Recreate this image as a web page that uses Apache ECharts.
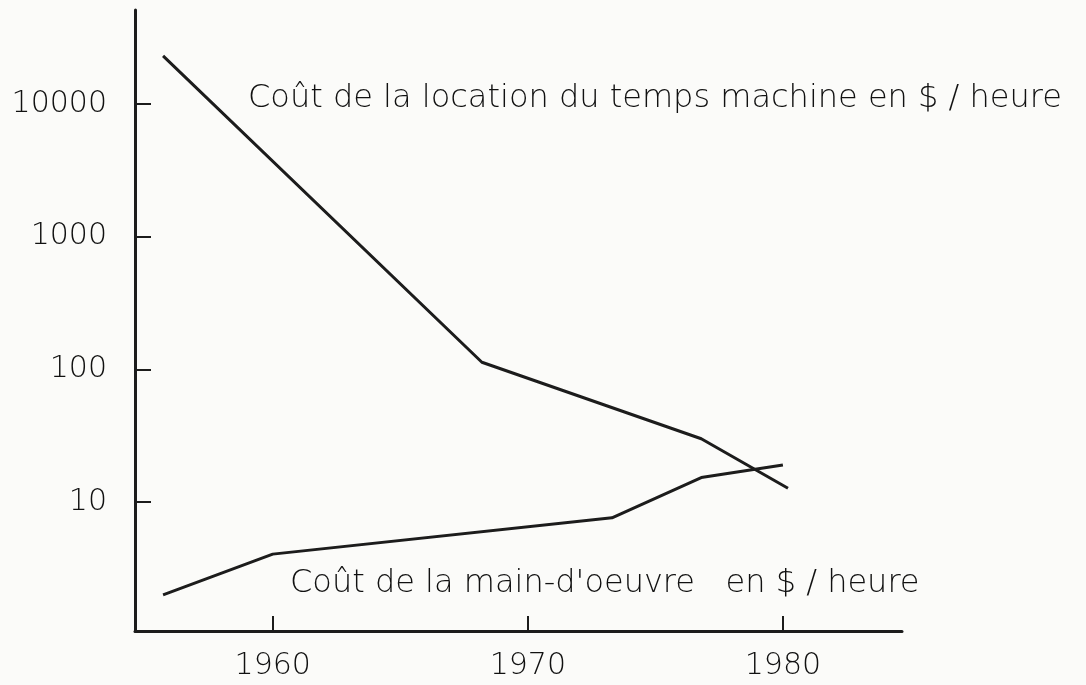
<!DOCTYPE html>
<html>
<head>
<meta charset="utf-8">
<title>Coût machine / main-d'oeuvre</title>
<script src="https://cdn.jsdelivr.net/npm/echarts@6/dist/echarts.min.js"></script>
<style>
  html, body { margin: 0; padding: 0; background: #fbfbf9; }
  #chart { width: 1086px; height: 685px; }
</style>
</head>
<body>
<div id="chart"></div>
<script>
  // valeurs (échelle log en ordonnée)
  var machineYears = [1955.7, 1968.2, 1976.8, 1980.2]
  var machineCost = [23000, 113, 30, 12.7]
  var labourYears = [1955.7, 1960, 1973.3, 1976.8, 1980]
  var labourCost = [2, 4.05, 7.6, 15.3, 19]
  var yearTicks = [1960, 1970, 1980]
  var costTicks = [10, 100, 1000, 10000]
  var machineLabel = 'Coût de la location du temps machine en $ / heure'
  var labourLabel = 'Coût de la main-d\'oeuvre   en $ / heure'

  function pairs(xs, ys) {
    return xs.map(function (x, i) { return [x, ys[i]] })
  }

  var ink = '#1c1c1c'
  var textInk = '#111'
  var font = 'DejaVu Sans'

  var chart = echarts.init(document.getElementById('chart'))
  chart.setOption({
    backgroundColor: '#fbfbf9',
    animation: false,
    grid: {
      left: 135,
      right: 184,
      top: 10,
      bottom: 54
    },
    xAxis: {
      type: 'value',
      min: 1954.6,
      max: 1984.67,
      splitLine: { show: false },
      axisLine: { lineStyle: { color: ink, width: 3 } },
      axisTick: {
        inside: true,
        length: 15,
        customValues: yearTicks,
        lineStyle: { color: ink, width: 2 }
      },
      axisLabel: {
        customValues: yearTicks,
        formatter: function (v) { return String(v) },
        margin: 20,
        color: textInk,
        fontFamily: font,
        fontWeight: 200,
        fontSize: 30
      }
    },
    yAxis: {
      type: 'log',
      logBase: 10,
      min: 1.067,
      max: 51000,
      splitLine: { show: false },
      axisLine: { lineStyle: { color: ink, width: 3 } },
      axisTick: {
        inside: true,
        length: 16,
        customValues: costTicks,
        lineStyle: { color: ink, width: 2 }
      },
      axisLabel: {
        customValues: costTicks,
        formatter: function (v) { return String(Math.round(v)) },
        margin: 28,
        color: textInk,
        fontFamily: font,
        fontWeight: 200,
        fontSize: 30
      }
    },
    graphic: [{
      type: 'text',
      left: 248,
      top: 83,
      style: {
        text: machineLabel,
        fill: textInk,
        font: '200 32px "DejaVu Sans"'
      }
    }, {
      type: 'text',
      left: 290,
      top: 568,
      style: {
        text: labourLabel,
        fill: textInk,
        font: '200 32px "DejaVu Sans"'
      }
    }],
    series: [{
      name: 'machine',
      type: 'line',
      symbol: 'none',
      lineStyle: { color: ink, width: 3 },
      data: pairs(machineYears, machineCost)
    }, {
      name: 'main-d\'oeuvre',
      type: 'line',
      symbol: 'none',
      lineStyle: { color: ink, width: 3 },
      data: pairs(labourYears, labourCost)
    }]
  })
</script>
</body>
</html>
